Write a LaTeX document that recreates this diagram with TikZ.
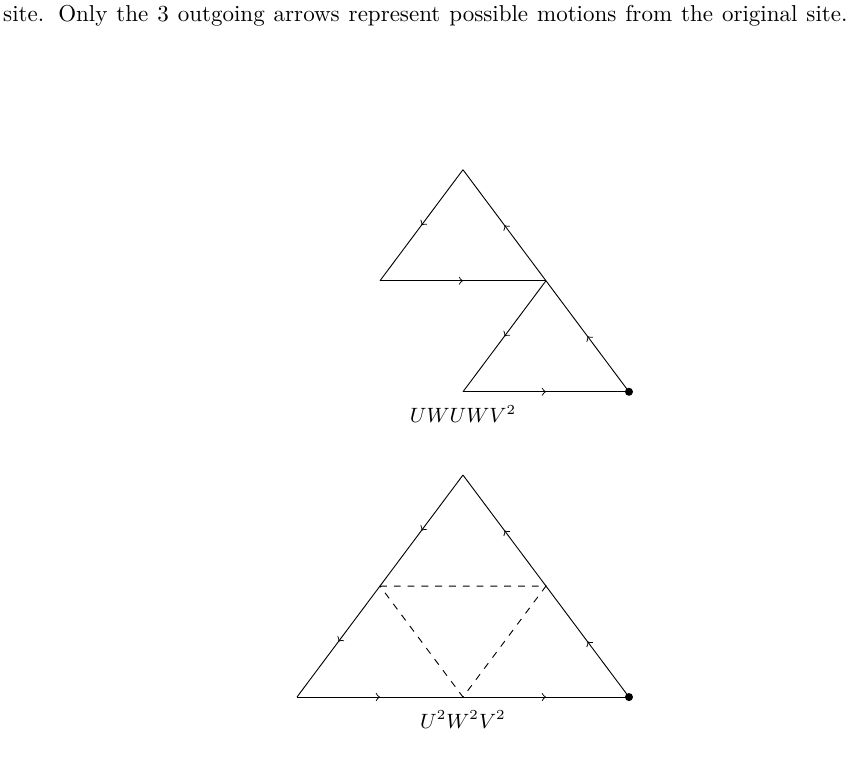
\documentclass[tikz,border=0pt]{standalone}
\usetikzlibrary{decorations.markings}
\begin{document}
\begin{tikzpicture}[x=1.268cm, y=1.696cm]
	\tikzset{fleche/.style={postaction={decorate}, decoration={markings, mark=at position 0.5 with {\arrow{to}}}}, point/.style={circle, fill=black, inner sep=0, minimum size=3.5pt}, pointille/.style={dashed}, mot/.style={font=\fontsize{8.6pt}{10pt}\selectfont}};

	\useasboundingbox (-5.578,-0.757) rectangle (4.675,6.279);

	\node (texte) at (-0.453,6.14) {\makebox[367pt][s]{site. Only the 3 outgoing arrows represent possible motions from the original site.}};

	% premier chemin
	\coordinate (a1) at ( 0, 4.75);
	\coordinate (g1) at (-1, 3.75);
	\coordinate (b1) at ( 1, 3.75);
	\coordinate (c1) at ( 0, 2.75);
	\node[point] (d1) at ( 2, 2.75) {};

	\draw[fleche] (d1.center) to (b1);
	\draw[fleche] (b1) to (a1);
	\draw[fleche] (a1) to (g1);
	\draw[fleche] (g1) to (b1);
	\draw[fleche] (b1) to (c1);
	\draw[fleche] (c1) to (d1.center);

	\node[mot] (mot1) at (0,2.55) {$UWUWV^2$};

	% second chemin
	\coordinate (a2) at ( 0, 2);
	\coordinate (g2) at (-1, 1);
	\coordinate (b2) at ( 1, 1);
	\coordinate (e2) at (-2, 0);
	\coordinate (c2) at ( 0, 0);
	\node[point] (d2) at ( 2, 0) {};

	\draw[fleche] (d2.center) to (b2);
	\draw[fleche] (b2) to (a2);
	\draw[fleche] (a2) to (g2);
	\draw[fleche] (g2) to (e2);
	\draw[fleche] (e2) to (c2);
	\draw[fleche] (c2) to (d2.center);

	\draw[pointille] (g2) -- (b2) -- (c2) -- (g2);

	\node[mot] (mot2) at (0,-0.2) {$U^2W^2V^2$};

\end{tikzpicture}
\end{document}
